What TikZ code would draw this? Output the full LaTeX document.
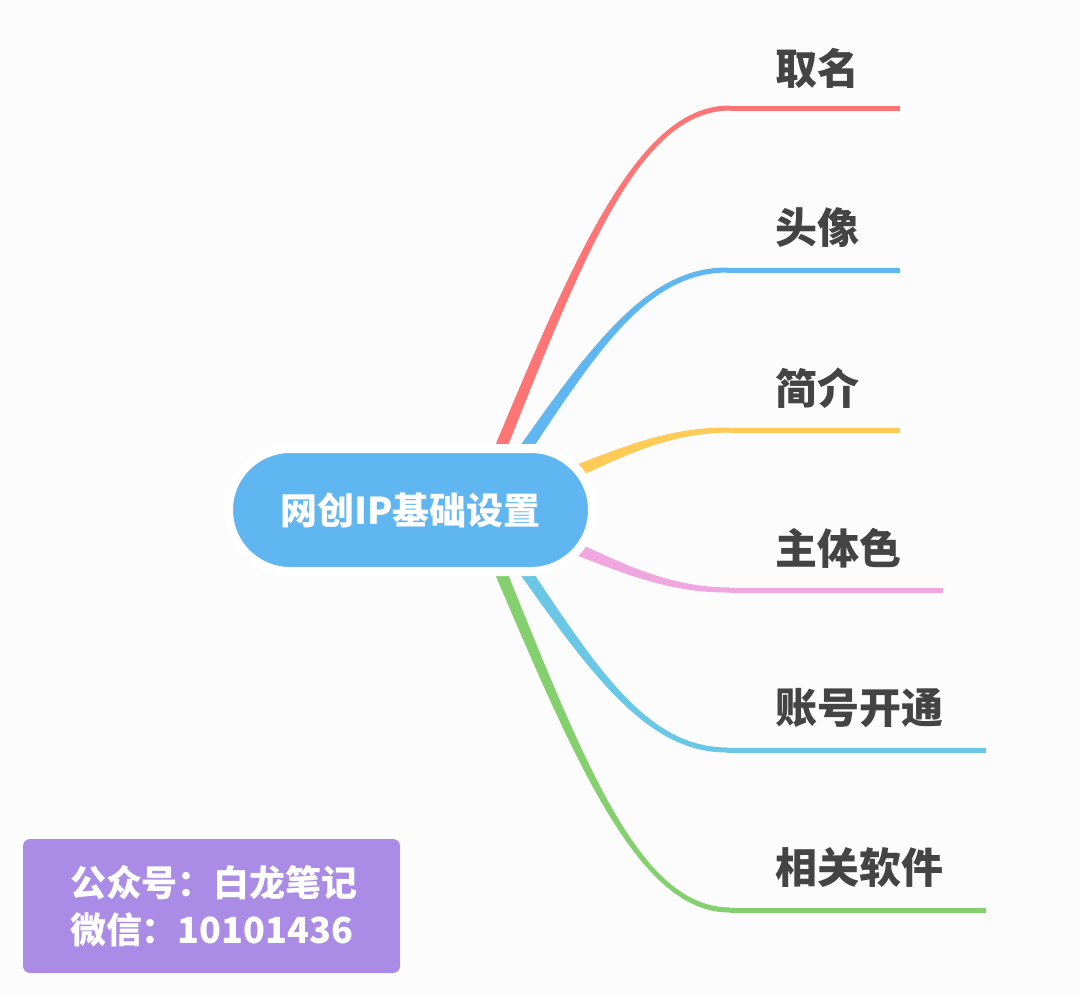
\documentclass[tikz,border=0pt]{standalone}
\usepackage{fontspec}
\setmainfont{Noto Sans CJK SC}
\usetikzlibrary{calc}

\definecolor{bg}{HTML}{FCFCFC}
\definecolor{rootblue}{HTML}{60B6F0}
\definecolor{cred}{HTML}{FF7575}
\definecolor{cblue}{HTML}{60B6F0}
\definecolor{cyellow}{HTML}{FFCA55}
\definecolor{cpink}{HTML}{F0A6DE}
\definecolor{ccyan}{HTML}{6AC8E6}
\definecolor{cgreen}{HTML}{84CF6E}
\definecolor{cpurple}{HTML}{AA8BE6}
\definecolor{labelgray}{HTML}{444444}

% tapered branch: colour, start, control 1, control 2, end of bend
\newcommand{\taper}[5]{%
  \fill[#1] ($(#2)!6pt!90:(#3)$) .. controls ($(#3)!4pt!-90:(#2)$) and ($(#4)!3pt!90:(#5)$) .. ($(#5)!2.5pt!-90:(#4)$)
    -- ($(#5)!2.5pt!90:(#4)$) .. controls ($(#4)!3pt!-90:(#5)$) and ($(#3)!4pt!90:(#2)$) .. ($(#2)!6pt!-90:(#3)$) -- cycle;}

\begin{document}
\begin{tikzpicture}[x=1pt, y=-1pt,
    root/.style={fill=rootblue, draw=white, line width=9pt, rounded corners=61.5pt,
      minimum width=364pt, minimum height=123pt, inner sep=0pt,
      text=white, font=\fontsize{37}{40}\selectfont\bfseries},
    topic/.style={anchor=west, inner sep=0pt, text=labelgray,
      font=\fontsize{42}{46}\selectfont\bfseries},
    tail/.style={line width=5pt},
    infobox/.style={fill=cpurple, rounded corners=7pt, minimum width=377pt, minimum height=134pt,
      text width=283pt, align=left, inner sep=0pt, text=white,
      font=\fontsize{36}{47}\selectfont\bfseries}]
    \fill[bg] (0,0) rectangle (1080,994);

    % start points, bends and line ends
    \coordinate (s1) at (499,452); \coordinate (t1) at (730,108); \coordinate (e1) at (900,108);
    \coordinate (s2) at (523,452); \coordinate (t2) at (727,270); \coordinate (e2) at (900,270);
    \coordinate (s3) at (577,471); \coordinate (t3) at (730,430); \coordinate (e3) at (900,430);
    \coordinate (s4) at (577,549); \coordinate (t4) at (730,590); \coordinate (e4) at (943,590);
    \coordinate (s5) at (523,568); \coordinate (t5) at (727,750); \coordinate (e5) at (986,750);
    \coordinate (s6) at (499,568); \coordinate (t6) at (730,910); \coordinate (e6) at (986,910);

    \coordinate (a1) at (583,245); \coordinate (b1) at (641,108);
    \coordinate (a2) at (597,344); \coordinate (b2) at (649,270);
    \coordinate (a3) at (633,447); \coordinate (b3) at (674,430);
    \coordinate (a4) at (633,573); \coordinate (b4) at (674,590);
    \coordinate (a5) at (597,676); \coordinate (b5) at (649,750);
    \coordinate (a6) at (583,771); \coordinate (b6) at (641,910);

    \taper{cred}{s1}{a1}{b1}{t1}
    \taper{cblue}{s2}{a2}{b2}{t2}
    \taper{cyellow}{s3}{a3}{b3}{t3}
    \taper{cpink}{s4}{a4}{b4}{t4}
    \taper{ccyan}{s5}{a5}{b5}{t5}
    \taper{cgreen}{s6}{a6}{b6}{t6}

    \draw[tail, cred]    (t1) -- (e1);
    \draw[tail, cblue]   (t2) -- (e2);
    \draw[tail, cyellow] (t3) -- (e3);
    \draw[tail, cpink]   (t4) -- (e4);
    \draw[tail, ccyan]   (t5) -- (e5);
    \draw[tail, cgreen]  (t6) -- (e6);

    \node[root] (root) at (410.5,510) {网创IP基础设置};

    \node[topic] (n1) at (775,68)  {取名};
    \node[topic] (n2) at (775,228) {头像};
    \node[topic] (n3) at (775,388) {简介};
    \node[topic] (n4) at (775,548) {主体色};
    \node[topic] (n5) at (775,708) {账号开通};
    \node[topic] (n6) at (775,868) {相关软件};

    \node[infobox] (info) at (211.5,906) {公众号：白龙笔记\\微信：10101436};
\end{tikzpicture}
\end{document}
